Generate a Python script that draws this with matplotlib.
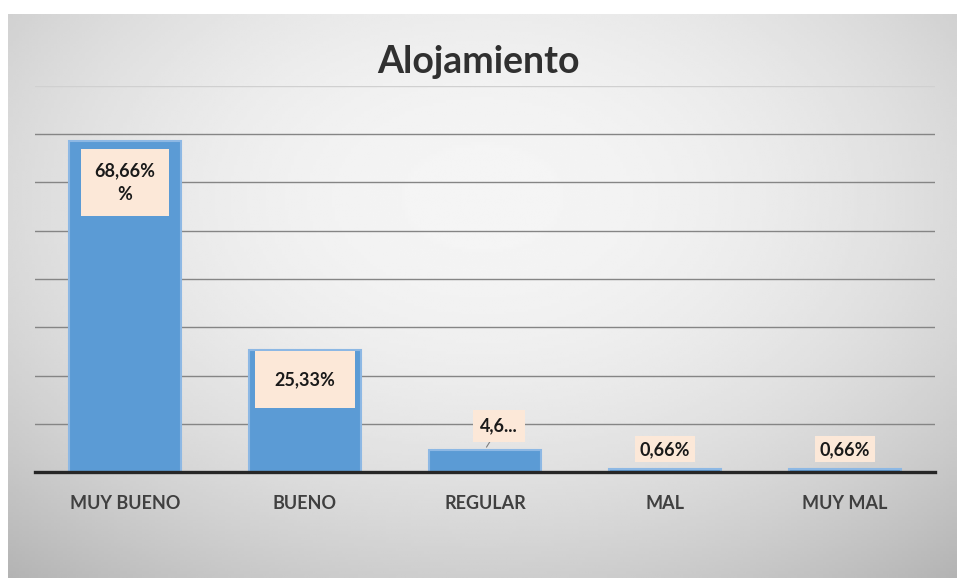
import numpy as np
import matplotlib.pyplot as plt

plt.rcParams['font.family'] = ['Lato', 'DejaVu Sans']

# datos
categorias = ['MUY BUENO', 'BUENO', 'REGULAR', 'MAL', 'MUY MAL']
valores = [68.66, 25.33, 4.66, 0.66, 0.66]
etiquetas = ['68,66%\n%', '25,33%', '4,6...', '0,66%', '0,66%']

W, H = 957, 578
fig = plt.figure(figsize=(W / 100, H / 100), dpi=100)
fig.patch.set_facecolor('white')

# fondo con degradado gris (zona del grafico)
bg = fig.add_axes([8 / W, 0, 1 - 8 / W, 1 - 14 / H])
yy, xx = np.mgrid[-1:1:200j, -1:1:300j]
r = np.sqrt((xx * 0.9) ** 2 + ((yy + 0.35) * 0.8) ** 2)
grad = 0.96 - 0.13 * np.clip(r, 0, 1.4) ** 2
bg.imshow(grad, cmap='gray', vmin=0, vmax=1, aspect='auto', interpolation='bilinear')
bg.axis('off')

ax = fig.add_axes([35 / W, 106 / H, 900 / W, 386 / H])
ax.patch.set_alpha(0)
x = np.arange(len(categorias))
bars = ax.bar(x, valores, width=0.62, color='#5B9BD5', edgecolor='#8DB8E4', linewidth=1.5, zorder=3)

ax.set_xlim(-0.5, len(categorias) - 0.5)
ax.set_ylim(0, 80)
ax.set_yticks(np.arange(0, 81, 10))
ax.yaxis.grid(True, color='#858585', linewidth=1.0, zorder=0)
ax.get_ygridlines()[-1].set_color('#d0d0d0')
ax.tick_params(axis='y', left=False, labelleft=False)
ax.tick_params(axis='x', bottom=False, pad=13)
ax.set_xticks(x)
ax.set_xticklabels(categorias, fontsize=13, fontweight='bold', color='#404040')
for s in ['top', 'right', 'left']:
    ax.spines[s].set_visible(False)
ax.spines['bottom'].set_color('#262626')
ax.spines['bottom'].set_linewidth(2.4)
ax.spines['bottom'].set_zorder(4)

# etiquetas de datos
desplaz = [(0, -30), (0, -21.6), (10, 17), (0, 14), (0, 14)]
relleno = [0.75, 1.1, 0.4, 0.25, 0.25]
for i, (v, t) in enumerate(zip(valores, etiquetas)):
    dx, dy = desplaz[i]
    ax.annotate(t, xy=(x[i], v), xytext=(dx, dy), textcoords='offset points',
                ha='center', va='center', fontsize=13, fontweight='bold', color='#1a1a1a',
                linespacing=1.45, zorder=5,
                bbox=dict(boxstyle='square,pad=%.2f' % relleno[i], fc='#FCE8D8', ec='none'))
# linea guia de REGULAR
ax.annotate('', xy=(x[2], valores[2]), xytext=(5, 8), textcoords='offset points',
            arrowprops=dict(arrowstyle='-', color='#7f7f7f', lw=0.8), zorder=4)

fig.text(0.5, 1 - 62 / H, 'Alojamiento', ha='center', va='center', fontsize=27,
         fontweight='bold', color='#303030')

fig.savefig('out.png', dpi=100)
